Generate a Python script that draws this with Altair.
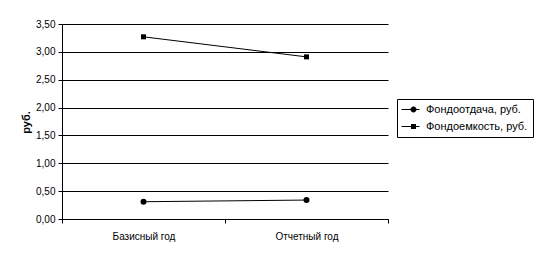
import altair as alt
import pandas as pd

categories = ["Базисный год", "Отчетный год"]
series_names = ["Фондоотдача, руб.", "Фондоемкость, руб."]
fondootdacha = [0.31, 0.34]
fondoemkost = [3.27, 2.91]
y_ticks = [0, 0.5, 1.0, 1.5, 2.0, 2.5, 3.0, 3.5]

rows = []
for c, v in zip(categories, fondootdacha):
    rows.append({"cat": c, "series": series_names[0], "value": v})
for c, v in zip(categories, fondoemkost):
    rows.append({"cat": c, "series": series_names[1], "value": v})
df = pd.DataFrame(rows)

FONT = "Liberation Sans"

x_enc = alt.X(
    "cat:N",
    sort=categories,
    scale=alt.Scale(type="band", paddingInner=0, paddingOuter=0),
    axis=alt.Axis(
        title=None, labelAngle=0, tickBand="extent", domainColor="black",
        tickColor="black", tickSize=4, labelPadding=8, labelFont=FONT,
        labelFontSize=10, labelColor="black", grid=False,
    ),
)
y_enc = alt.Y(
    "value:Q",
    scale=alt.Scale(domain=[0, 3.5], nice=False, zero=True),
    axis=alt.Axis(
        title="руб.", values=y_ticks, titleFont=FONT, titleFontSize=11,
        titleFontWeight="bold", titleColor="black",
        titleX=-31, titleY=98,
        labelExpr="replace(format(datum.value, '.2f'), '.', ',')",
        labelFont=FONT, labelFontSize=10, labelColor="black",
        domainColor="black", tickColor="black", tickSize=4, labelPadding=3,
        grid=True, gridColor="black", gridWidth=1, gridOpacity=1,
    ),
)

base = alt.Chart(df)

lines = base.mark_line(color="black", strokeWidth=1).encode(
    x=x_enc, y=y_enc, detail="series:N"
)

points = base.mark_point(filled=True, color="black", opacity=1).encode(
    x=x_enc, y=y_enc,
    shape=alt.Shape("series:N", scale=alt.Scale(domain=series_names, range=["circle", "square"]), legend=None),
    size=alt.Size("series:N", scale=alt.Scale(domain=series_names, range=[36, 25]), legend=None),
)

circle_path = "M-1.2,-0.1L2.4,-0.1L2.4,0.1L-1.2,0.1Z M0.6,0A0.6,0.6,0,1,1,1.8,0A0.6,0.6,0,1,1,0.6,0Z"
square_path = "M-1.2,-0.1L2.4,-0.1L2.4,0.1L-1.2,0.1Z M0.7,-0.5L1.7,-0.5L1.7,0.5L0.7,0.5Z"

legend_layer = base.mark_point(filled=True, color="black", opacity=0).encode(
    x=x_enc, y=y_enc,
    shape=alt.Shape(
        "series:N",
        scale=alt.Scale(domain=series_names, range=[circle_path, square_path]),
        legend=alt.Legend(
            title=None, orient="none", legendX=335, legendY=75,
            strokeColor="black", fillColor="white", padding=5, cornerRadius=0,
            symbolSize=100, symbolOpacity=1, symbolFillColor="black",
            symbolStrokeColor="black", symbolStrokeWidth=0,
            labelFont=FONT, labelFontSize=11, labelColor="black",
            labelOffset=13, rowPadding=5,
        ),
    ),
)

chart = (
    alt.layer(lines, points, legend_layer)
    .resolve_scale(shape="independent", size="independent")
    .properties(
        width=326, height=195,
        autosize=alt.AutoSizeParams(type="none"),
        padding={"left": 62, "top": 24, "right": 147, "bottom": 43},
        background="white",
    )
    .configure_view(stroke=None)
)

chart.save("out.html", embed_options={"renderer": "svg", "actions": False})
